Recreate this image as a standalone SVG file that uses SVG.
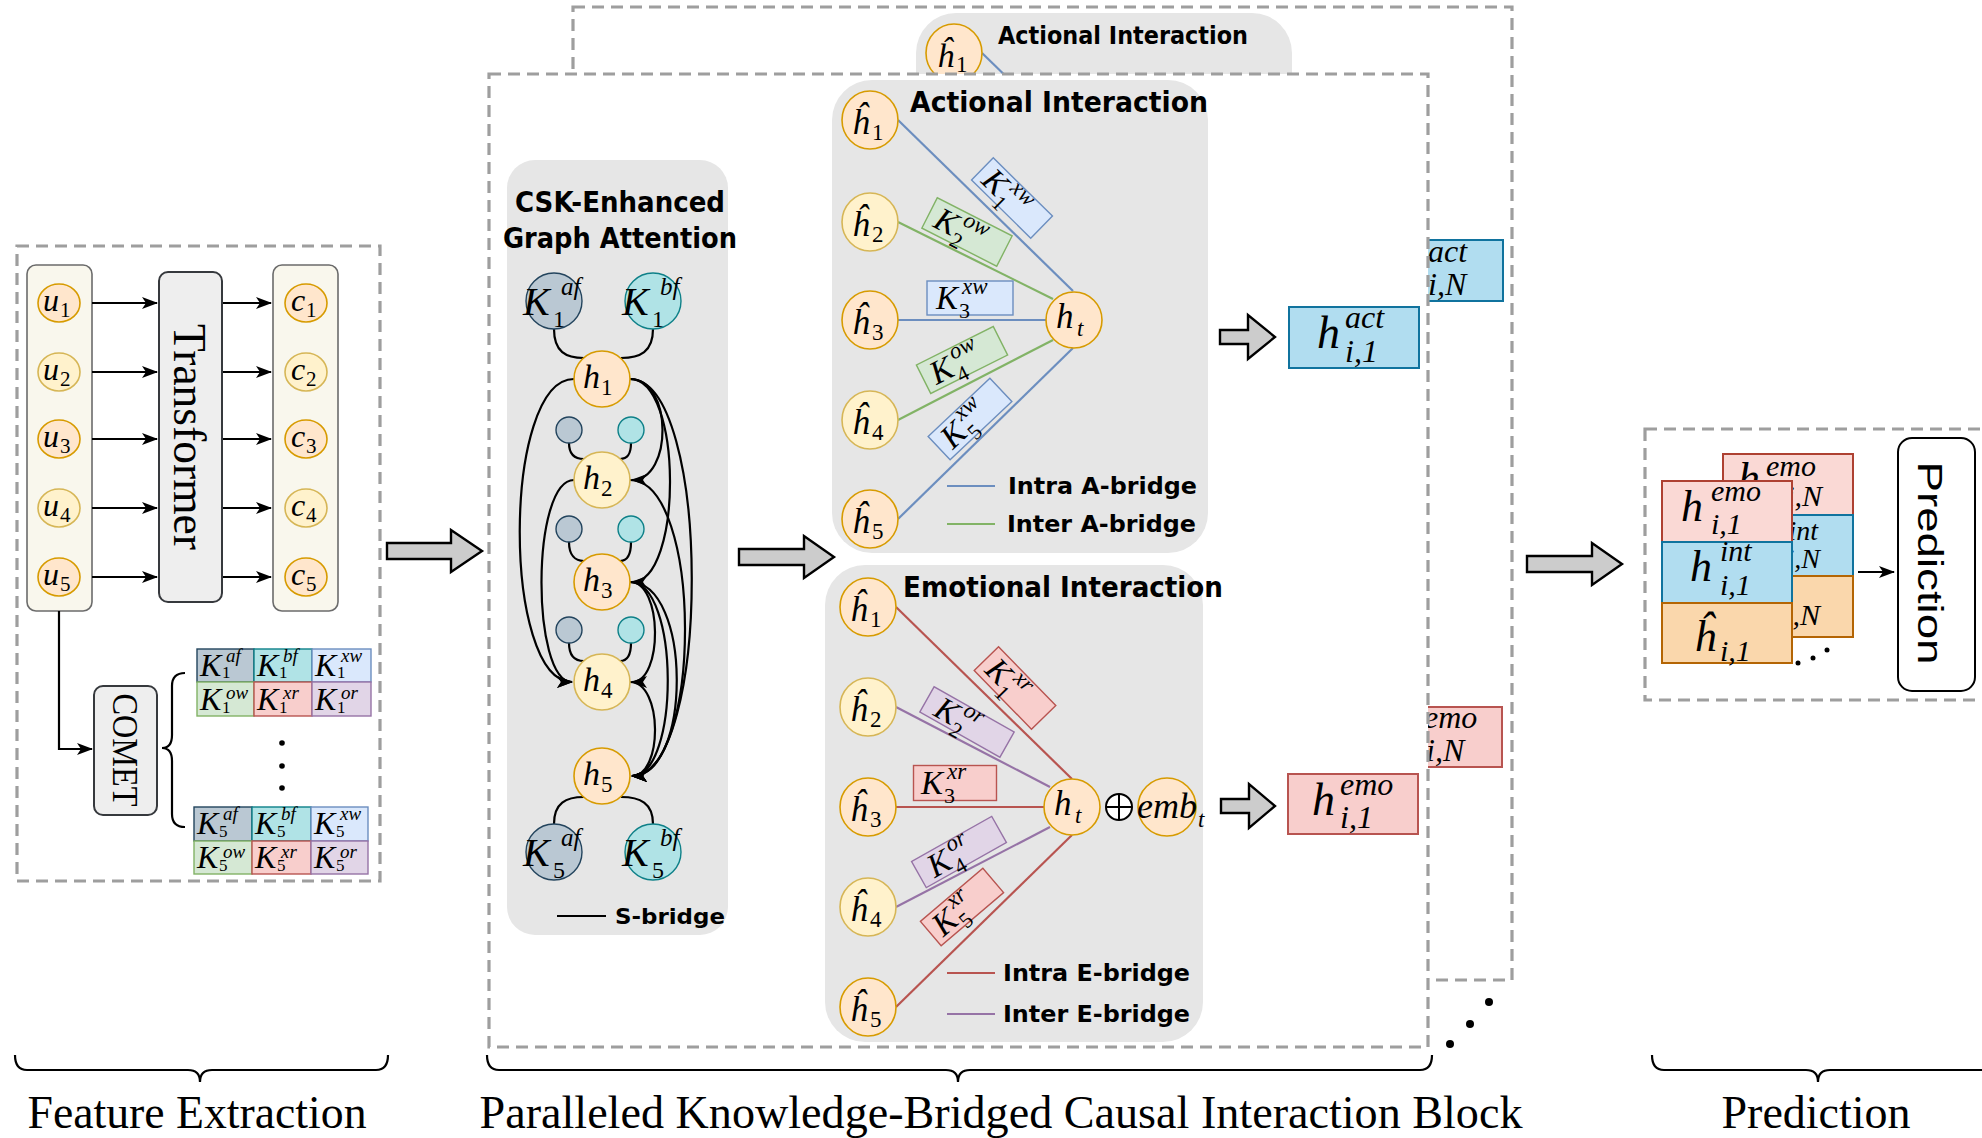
<svg xmlns="http://www.w3.org/2000/svg" width="1982" height="1138" viewBox="0 0 1982 1138">
<defs>
<style>
.dash{fill:none;stroke:#9e9e9e;stroke-width:3.2;stroke-dasharray:12 7}
.wdash{fill:#fff;stroke:#9e9e9e;stroke-width:3.2;stroke-dasharray:12 7}
.panel{fill:#e6e6e6}
.org{fill:#ffe6cc;stroke:#d79b00;stroke-width:1.6}
.yel{fill:#fff2cc;stroke:#d6b656;stroke-width:1.6}
.col{fill:#f9f7ed;stroke:#6b6b6b;stroke-width:1.6}
.box{fill:#eeeeee;stroke:#36393d;stroke-width:2}
.mi{font-family:"Liberation Serif",serif;font-style:italic;fill:#000}
.mr{font-family:"Liberation Serif",serif;fill:#000}
.hd{font-family:"DejaVu Sans",sans-serif;font-weight:bold;fill:#000}
.cap{font-family:"Liberation Serif",serif;fill:#000}
.ln{fill:none;stroke:#000;stroke-width:2.2}
.big{fill:#cccccc;stroke:#000;stroke-width:2.4}
.af{fill:#bac8d3;stroke:#23445d;stroke-width:1.4}
.bf{fill:#b0e3e6;stroke:#0e8088;stroke-width:1.4}
.xw{fill:#dae8fc;stroke:#6c8ebf;stroke-width:1.4}
.ow{fill:#d5e8d4;stroke:#82b366;stroke-width:1.4}
.xr{fill:#f8cecc;stroke:#b85450;stroke-width:1.4}
.or{fill:#e1d5e7;stroke:#9673a6;stroke-width:1.4}
.eA{stroke:#6c8ebf;stroke-width:2.2}
.eG{stroke:#82b366;stroke-width:2.2}
.eR{stroke:#b85450;stroke-width:2.2}
.eP{stroke:#9673a6;stroke-width:2.2}
.vact{fill:#b1ddf0;stroke:#10739e;stroke-width:2}
.vemo{fill:#f8cecc;stroke:#b85450;stroke-width:2}
.semo{fill:#fad9d5;stroke:#ae4132;stroke-width:2}
.sint{fill:#b1ddf0;stroke:#10739e;stroke-width:2}
.shat{fill:#fad7ac;stroke:#b46504;stroke-width:2}
</style>
<marker id="ah" markerUnits="userSpaceOnUse" markerWidth="16" markerHeight="14" viewBox="0 0 16 14" refX="15" refY="7" orient="auto">
<path d="M0,1 L16,7 L0,13 L4,7 Z" fill="#000"/>
</marker>
<!-- part of the rear stack left uncovered by the front stack -->
<clipPath id="rear-visible">
<path clip-rule="evenodd" d="M1723,454 H1853 V637 H1723 Z M1723,481 H1792 V663 H1723 Z"/>
</clipPath>
</defs>
<rect width="1982" height="1138" fill="#fff"/>

<!-- second interaction block stacked behind the first one -->
<g id="block-back">
<rect class="dash" x="573" y="7" width="939" height="973"/>
<rect class="panel" x="916" y="13" width="376" height="473" rx="40"/>
<line class="eA" x1="982" y1="53" x2="1157" y2="223"/>
<ellipse class="org" cx="954" cy="53" rx="28" ry="29"/>
<text class="mi" x="937" y="67" font-size="34">ĥ</text><text class="mr" x="956" y="72" font-size="23">1</text>
<text class="hd" x="998" y="44" font-size="25" textLength="250" lengthAdjust="spacingAndGlyphs">Actional Interaction</text>
<rect class="vact" x="1373" y="240" width="130" height="61"/>
<text class="mi" x="1401" y="282" font-size="46">h</text><text class="mi" x="1428" y="262" font-size="32">act</text><text class="mi" x="1428" y="295" font-size="32">i,N</text>
<rect class="vemo" x="1372" y="707" width="130" height="60"/>
<text class="mi" x="1397" y="748" font-size="46">h</text><text class="mi" x="1424" y="728" font-size="32">emo</text><text class="mi" x="1426" y="761" font-size="32">i,N</text>
</g>

<!-- frames -->
<rect id="block-frame" class="wdash" x="489" y="74" width="939" height="973"/>
<rect id="fe-frame" class="dash" x="17" y="246" width="363" height="635"/>
<rect id="pred-frame" class="dash" x="1645" y="429" width="400" height="271"/>

<!-- containers -->
<rect id="u-column" class="col" x="27" y="265" width="65" height="346" rx="9"/>
<rect id="c-column" class="col" x="273" y="265" width="65" height="346" rx="9"/>
<rect id="csk-panel" class="panel" x="507" y="160" width="221" height="775" rx="28"/>
<rect id="act-panel" class="panel" x="832" y="80" width="376" height="473" rx="40"/>
<rect id="emo-panel" class="panel" x="825" y="565" width="378" height="477" rx="40"/>

<!-- connectors -->
<g id="connectors">
<g class="ln" marker-end="url(#ah)">
<line x1="92" y1="303" x2="157" y2="303"/>
<line x1="92" y1="372" x2="157" y2="372"/>
<line x1="92" y1="439" x2="157" y2="439"/>
<line x1="92" y1="508" x2="157" y2="508"/>
<line x1="92" y1="577" x2="157" y2="577"/>
<line x1="222" y1="303" x2="271" y2="303"/>
<line x1="222" y1="372" x2="271" y2="372"/>
<line x1="222" y1="439" x2="271" y2="439"/>
<line x1="222" y1="508" x2="271" y2="508"/>
<line x1="222" y1="577" x2="271" y2="577"/>
<path d="M59,611 V749 H92"/>
<line x1="1858" y1="572" x2="1894" y2="572"/>
<!-- sequential edges inside the graph attention -->
<path d="M630,379 C673,379 673,480 632,480"/>
<path d="M630,379 C683,379 683,582 632,582"/>
<path d="M630,379 C712,379 712,776 632,776"/>
<path d="M630,480 C703,480 703,776 632,776"/>
<path d="M630,582 C663,582 663,682 632,682"/>
<path d="M630,582 C680,582 680,776 632,776"/>
<path d="M630,582 C692,582 692,776 632,776"/>
<path d="M630,682 C663,682 663,776 632,776"/>
<path d="M574,379 C502,379 502,682 572,682"/>
<path d="M574,480 C531,480 531,682 572,682"/>
</g>
<!-- COMET brace -->
<path class="ln" d="M185,673 Q172,673 172,686 V735 Q172,748 162,748 Q172,748 172,761 V814 Q172,827 185,827"/>
<!-- knowledge links of the graph attention -->
<g class="ln">
<path d="M554,329 C554,352 566,358 584,358"/>
<path d="M653,329 C653,352 640,358 621,358"/>
<path d="M569,443 C569,455 575,459 584,459"/>
<path d="M631,443 C631,455 627,459 620,459"/>
<path d="M569,542 C569,555 575,561 584,561"/>
<path d="M631,542 C631,555 627,561 620,561"/>
<path d="M569,643 C569,656 575,661 584,661"/>
<path d="M631,643 C631,656 627,661 620,661"/>
<path d="M584,797 C566,797 554,803 554,824"/>
<path d="M621,797 C640,797 653,803 653,824"/>
<line x1="557" y1="916" x2="606" y2="916"/>
</g>
<!-- actional bridges -->
<line class="eA" x1="898" y1="120" x2="1073" y2="291"/>
<line class="eG" x1="898" y1="222" x2="1053" y2="299"/>
<line class="eA" x1="898" y1="320" x2="1046" y2="320"/>
<line class="eG" x1="898" y1="420" x2="1053" y2="340"/>
<line class="eA" x1="898" y1="519" x2="1073" y2="348"/>
<line class="eA" x1="947" y1="486" x2="995" y2="486"/>
<line class="eG" x1="947" y1="524" x2="995" y2="524"/>
<!-- emotional bridges -->
<line class="eR" x1="896" y1="607" x2="1072" y2="779"/>
<line class="eP" x1="896" y1="707" x2="1050" y2="787"/>
<line class="eR" x1="896" y1="807" x2="1044" y2="807"/>
<line class="eP" x1="896" y1="907" x2="1050" y2="827"/>
<line class="eR" x1="896" y1="1007" x2="1072" y2="835"/>
<line class="eR" x1="947" y1="973" x2="995" y2="973"/>
<line class="eP" x1="947" y1="1014" x2="995" y2="1014"/>
<!-- block arrows between stages -->
<path class="big" d="M387,543 H451 V530 L482,551 L451,572 V559 H387 Z"/>
<path class="big" d="M739,549 H804 V536 L834,557 L804,578 V565 H739 Z"/>
<path class="big" d="M1220,330 H1248 V315 L1275,337 L1248,359 V344 H1220 Z"/>
<path class="big" d="M1221,799 H1249 V784 L1275,806 L1249,828 V813 H1221 Z"/>
<path class="big" d="M1527,556 H1592 V543 L1622,564 L1592,585 V572 H1527 Z"/>
</g>

<!-- feature extraction -->
<g id="utterances">
<ellipse class="org" cx="59" cy="303" rx="21" ry="19"/>
<ellipse class="yel" cx="59" cy="372" rx="21" ry="19"/>
<ellipse class="org" cx="59" cy="439" rx="21" ry="19"/>
<ellipse class="yel" cx="59" cy="508" rx="21" ry="19"/>
<ellipse class="org" cx="59" cy="577" rx="21" ry="19"/>
<text class="mi" x="43" y="311" font-size="32">u</text><text class="mr" x="60" y="317" font-size="21">1</text>
<text class="mi" x="43" y="380" font-size="32">u</text><text class="mr" x="60" y="386" font-size="21">2</text>
<text class="mi" x="43" y="447" font-size="32">u</text><text class="mr" x="60" y="453" font-size="21">3</text>
<text class="mi" x="43" y="516" font-size="32">u</text><text class="mr" x="60" y="522" font-size="21">4</text>
<text class="mi" x="43" y="585" font-size="32">u</text><text class="mr" x="60" y="591" font-size="21">5</text>
</g>
<g id="transformer">
<rect class="box" x="159" y="272" width="63" height="330" rx="9"/>
<text class="cap" font-size="46" text-anchor="middle" textLength="226" lengthAdjust="spacingAndGlyphs" transform="translate(174,437) rotate(90)">Transformer</text>
</g>
<g id="contexts">
<ellipse class="org" cx="306" cy="303" rx="21" ry="19"/>
<ellipse class="yel" cx="306" cy="372" rx="21" ry="19"/>
<ellipse class="org" cx="306" cy="439" rx="21" ry="19"/>
<ellipse class="yel" cx="306" cy="508" rx="21" ry="19"/>
<ellipse class="org" cx="306" cy="577" rx="21" ry="19"/>
<text class="mi" x="291" y="311" font-size="32">c</text><text class="mr" x="306" y="317" font-size="21">1</text>
<text class="mi" x="291" y="380" font-size="32">c</text><text class="mr" x="306" y="386" font-size="21">2</text>
<text class="mi" x="291" y="447" font-size="32">c</text><text class="mr" x="306" y="453" font-size="21">3</text>
<text class="mi" x="291" y="516" font-size="32">c</text><text class="mr" x="306" y="522" font-size="21">4</text>
<text class="mi" x="291" y="585" font-size="32">c</text><text class="mr" x="306" y="591" font-size="21">5</text>
</g>
<g id="comet">
<rect class="box" x="94" y="686" width="63" height="129" rx="9"/>
<text class="cap" font-size="36" text-anchor="middle" textLength="113" lengthAdjust="spacingAndGlyphs" transform="translate(113,750) rotate(90)">COMET</text>
</g>
<g id="knowledge-1">
<rect class="af" x="197" y="649" width="57" height="33"/><rect class="bf" x="254" y="649" width="58" height="33"/><rect class="xw" x="312" y="649" width="59" height="33"/>
<rect class="ow" x="197" y="682" width="57" height="34"/><rect class="xr" x="254" y="682" width="58" height="34"/><rect class="or" x="312" y="682" width="59" height="34"/>
<text class="mi" x="200" y="676" font-size="32">K</text><text class="mi" x="226" y="662" font-size="19">af</text><text class="mr" x="222" y="678" font-size="17">1</text>
<text class="mi" x="257" y="676" font-size="32">K</text><text class="mi" x="283" y="662" font-size="19">bf</text><text class="mr" x="279" y="678" font-size="17">1</text>
<text class="mi" x="315" y="676" font-size="32">K</text><text class="mi" x="341" y="662" font-size="19">xw</text><text class="mr" x="337" y="678" font-size="17">1</text>
<text class="mi" x="200" y="710" font-size="32">K</text><text class="mi" x="226" y="699" font-size="19">ow</text><text class="mr" x="222" y="713" font-size="17">1</text>
<text class="mi" x="257" y="710" font-size="32">K</text><text class="mi" x="283" y="699" font-size="19">xr</text><text class="mr" x="279" y="713" font-size="17">1</text>
<text class="mi" x="315" y="710" font-size="32">K</text><text class="mi" x="341" y="699" font-size="19">or</text><text class="mr" x="337" y="713" font-size="17">1</text>
<circle cx="282" cy="743" r="2.8"/><circle cx="282" cy="766" r="2.8"/><circle cx="282" cy="788" r="2.8"/>
</g>
<g id="knowledge-5">
<rect class="af" x="194" y="807" width="58" height="34"/><rect class="bf" x="252" y="807" width="59" height="34"/><rect class="xw" x="311" y="807" width="57" height="34"/>
<rect class="ow" x="194" y="841" width="58" height="33"/><rect class="xr" x="252" y="841" width="59" height="33"/><rect class="or" x="311" y="841" width="57" height="33"/>
<text class="mi" x="197" y="834" font-size="32">K</text><text class="mi" x="223" y="820" font-size="19">af</text><text class="mr" x="219" y="837" font-size="17">5</text>
<text class="mi" x="255" y="834" font-size="32">K</text><text class="mi" x="281" y="820" font-size="19">bf</text><text class="mr" x="277" y="837" font-size="17">5</text>
<text class="mi" x="314" y="834" font-size="32">K</text><text class="mi" x="340" y="820" font-size="19">xw</text><text class="mr" x="336" y="837" font-size="17">5</text>
<text class="mi" x="197" y="868" font-size="32">K</text><text class="mi" x="223" y="858" font-size="19">ow</text><text class="mr" x="219" y="871" font-size="17">5</text>
<text class="mi" x="255" y="868" font-size="32">K</text><text class="mi" x="281" y="858" font-size="19">xr</text><text class="mr" x="277" y="871" font-size="17">5</text>
<text class="mi" x="314" y="868" font-size="32">K</text><text class="mi" x="340" y="858" font-size="19">or</text><text class="mr" x="336" y="871" font-size="17">5</text>
</g>

<!-- CSK-enhanced graph attention -->
<g id="csk-graph">
<text class="hd" x="620" y="212" font-size="29" text-anchor="middle" textLength="210" lengthAdjust="spacingAndGlyphs">CSK-Enhanced</text>
<text class="hd" x="620" y="248" font-size="29" text-anchor="middle" textLength="234" lengthAdjust="spacingAndGlyphs">Graph Attention</text>
<circle class="af" cx="554" cy="301" r="28"/><circle class="bf" cx="653" cy="301" r="28"/>
<circle class="af" cx="569" cy="430" r="13"/><circle class="bf" cx="631" cy="430" r="13"/>
<circle class="af" cx="569" cy="529" r="13"/><circle class="bf" cx="631" cy="529" r="13"/>
<circle class="af" cx="569" cy="630" r="13"/><circle class="bf" cx="631" cy="630" r="13"/>
<circle class="af" cx="554" cy="852" r="28"/><circle class="bf" cx="653" cy="852" r="28"/>
<text class="mi" x="523" y="315" font-size="40">K</text><text class="mi" x="561" y="295" font-size="25">af</text><text class="mr" x="553" y="327" font-size="24">1</text>
<text class="mi" x="622" y="315" font-size="40">K</text><text class="mi" x="660" y="295" font-size="25">bf</text><text class="mr" x="652" y="327" font-size="24">1</text>
<text class="mi" x="523" y="866" font-size="40">K</text><text class="mi" x="561" y="846" font-size="25">af</text><text class="mr" x="553" y="878" font-size="24">5</text>
<text class="mi" x="622" y="866" font-size="40">K</text><text class="mi" x="660" y="846" font-size="25">bf</text><text class="mr" x="652" y="878" font-size="24">5</text>
<circle class="org" cx="602" cy="379" r="28"/>
<circle class="yel" cx="602" cy="480" r="28"/>
<circle class="org" cx="602" cy="582" r="28"/>
<circle class="yel" cx="602" cy="682" r="28"/>
<circle class="org" cx="602" cy="776" r="28"/>
<text class="mi" x="583" y="388" font-size="34">h</text><text class="mr" x="601" y="395" font-size="23">1</text>
<text class="mi" x="583" y="489" font-size="34">h</text><text class="mr" x="601" y="496" font-size="23">2</text>
<text class="mi" x="583" y="591" font-size="34">h</text><text class="mr" x="601" y="598" font-size="23">3</text>
<text class="mi" x="583" y="691" font-size="34">h</text><text class="mr" x="601" y="698" font-size="23">4</text>
<text class="mi" x="583" y="785" font-size="34">h</text><text class="mr" x="601" y="792" font-size="23">5</text>
<text class="hd" x="615" y="924" font-size="21" textLength="110" lengthAdjust="spacingAndGlyphs">S-bridge</text>
</g>

<!-- actional interaction -->
<g id="actional">
<text class="hd" x="910" y="112" font-size="29" textLength="298" lengthAdjust="spacingAndGlyphs">Actional Interaction</text>
<g transform="translate(1012,198) rotate(44.5)"><rect class="xw" x="-41.5" y="-15.5" width="83" height="31"/><text class="mi" x="-34" y="11" font-size="33">K</text><text class="mi" x="-8" y="-4" font-size="23">xw</text><text class="mr" x="-11" y="20" font-size="22">1</text></g>
<g transform="translate(967,232) rotate(27)"><rect class="ow" x="-42" y="-17" width="84" height="34"/><text class="mi" x="-34" y="11" font-size="33">K</text><text class="mi" x="-8" y="-4" font-size="23">ow</text><text class="mr" x="-11" y="20" font-size="22">2</text></g>
<g transform="translate(970,298)"><rect class="xw" x="-43" y="-17" width="86" height="34"/><text class="mi" x="-34" y="11" font-size="33">K</text><text class="mi" x="-8" y="-4" font-size="23">xw</text><text class="mr" x="-11" y="20" font-size="22">3</text></g>
<g transform="translate(962,360) rotate(-26.6)"><rect class="ow" x="-43" y="-16" width="86" height="32"/><text class="mi" x="-34" y="11" font-size="33">K</text><text class="mi" x="-8" y="-4" font-size="23">ow</text><text class="mr" x="-11" y="20" font-size="22">4</text></g>
<g transform="translate(970,419) rotate(-43.4)"><rect class="xw" x="-42.5" y="-16" width="85" height="32"/><text class="mi" x="-34" y="11" font-size="33">K</text><text class="mi" x="-8" y="-4" font-size="23">xw</text><text class="mr" x="-11" y="20" font-size="22">5</text></g>
<ellipse class="org" cx="870" cy="120" rx="28" ry="29"/>
<ellipse class="yel" cx="870" cy="222" rx="28" ry="29"/>
<ellipse class="org" cx="870" cy="320" rx="28" ry="29"/>
<ellipse class="yel" cx="870" cy="420" rx="28" ry="29"/>
<ellipse class="org" cx="870" cy="519" rx="28" ry="29"/>
<text class="mi" x="852" y="134" font-size="35">ĥ</text><text class="mr" x="872" y="140" font-size="23">1</text>
<text class="mi" x="852" y="236" font-size="35">ĥ</text><text class="mr" x="872" y="242" font-size="23">2</text>
<text class="mi" x="852" y="334" font-size="35">ĥ</text><text class="mr" x="872" y="340" font-size="23">3</text>
<text class="mi" x="852" y="434" font-size="35">ĥ</text><text class="mr" x="872" y="440" font-size="23">4</text>
<text class="mi" x="852" y="533" font-size="35">ĥ</text><text class="mr" x="872" y="539" font-size="23">5</text>
<circle class="org" cx="1074" cy="320" r="28"/>
<text class="mi" x="1056" y="328" font-size="35">h</text><text class="mi" x="1077" y="336" font-size="23">t</text>
<text class="hd" x="1008" y="494" font-size="23" textLength="189" lengthAdjust="spacingAndGlyphs">Intra A-bridge</text>
<text class="hd" x="1007" y="532" font-size="23" textLength="189" lengthAdjust="spacingAndGlyphs">Inter A-bridge</text>
</g>

<!-- emotional interaction -->
<g id="emotional">
<text class="hd" x="903" y="597" font-size="29" textLength="320" lengthAdjust="spacingAndGlyphs">Emotional Interaction</text>
<g transform="translate(1015,688) rotate(45.7)"><rect class="xr" x="-41" y="-17" width="82" height="34"/><text class="mi" x="-34" y="11" font-size="33">K</text><text class="mi" x="-8" y="-4" font-size="23">xr</text><text class="mr" x="-11" y="20" font-size="22">1</text></g>
<g transform="translate(967,722) rotate(29.5)"><rect class="or" x="-46" y="-14.5" width="92" height="29"/><text class="mi" x="-34" y="11" font-size="33">K</text><text class="mi" x="-8" y="-4" font-size="23">or</text><text class="mr" x="-11" y="20" font-size="22">2</text></g>
<g transform="translate(955,783)"><rect class="xr" x="-41.5" y="-17.5" width="83" height="35"/><text class="mi" x="-34" y="11" font-size="33">K</text><text class="mi" x="-8" y="-4" font-size="23">xr</text><text class="mr" x="-11" y="20" font-size="22">3</text></g>
<g transform="translate(959,852) rotate(-29.4)"><rect class="or" x="-46" y="-15" width="92" height="30"/><text class="mi" x="-34" y="11" font-size="33">K</text><text class="mi" x="-8" y="-4" font-size="23">or</text><text class="mr" x="-11" y="20" font-size="22">4</text></g>
<g transform="translate(962,907) rotate(-40.4)"><rect class="xr" x="-41" y="-16" width="82" height="32"/><text class="mi" x="-34" y="11" font-size="33">K</text><text class="mi" x="-8" y="-4" font-size="23">xr</text><text class="mr" x="-11" y="20" font-size="22">5</text></g>
<ellipse class="org" cx="868" cy="607" rx="28" ry="29"/>
<ellipse class="yel" cx="868" cy="707" rx="28" ry="29"/>
<ellipse class="org" cx="868" cy="807" rx="28" ry="29"/>
<ellipse class="yel" cx="868" cy="907" rx="28" ry="29"/>
<ellipse class="org" cx="868" cy="1007" rx="28" ry="29"/>
<text class="mi" x="850" y="621" font-size="35">ĥ</text><text class="mr" x="870" y="627" font-size="23">1</text>
<text class="mi" x="850" y="721" font-size="35">ĥ</text><text class="mr" x="870" y="727" font-size="23">2</text>
<text class="mi" x="850" y="821" font-size="35">ĥ</text><text class="mr" x="870" y="827" font-size="23">3</text>
<text class="mi" x="850" y="921" font-size="35">ĥ</text><text class="mr" x="870" y="927" font-size="23">4</text>
<text class="mi" x="850" y="1021" font-size="35">ĥ</text><text class="mr" x="870" y="1027" font-size="23">5</text>
<circle class="org" cx="1072" cy="807" r="28"/>
<text class="mi" x="1054" y="815" font-size="35">h</text><text class="mi" x="1075" y="823" font-size="23">t</text>
<circle class="org" cx="1167" cy="807" r="29"/>
<circle cx="1119" cy="807" r="13" fill="#fff" stroke="#000" stroke-width="2"/>
<path d="M1106,807 H1132 M1119,794 V820" stroke="#000" stroke-width="2"/>
<text class="mi" x="1137" y="818" font-size="36">emb</text><text class="mi" x="1198" y="827" font-size="23">t</text>
<text class="hd" x="1003" y="981" font-size="23" textLength="187" lengthAdjust="spacingAndGlyphs">Intra E-bridge</text>
<text class="hd" x="1003" y="1022" font-size="23" textLength="187" lengthAdjust="spacingAndGlyphs">Inter E-bridge</text>
</g>

<!-- block outputs -->
<g id="out-act">
<rect class="vact" x="1289" y="307" width="130" height="61"/>
<text class="mi" x="1317" y="348" font-size="46">h</text><text class="mi" x="1345" y="328" font-size="32">act</text><text class="mi" x="1345" y="362" font-size="32">i,1</text>
</g>
<g id="out-emo">
<rect class="vemo" x="1288" y="774" width="130" height="60"/>
<text class="mi" x="1312" y="815" font-size="46">h</text><text class="mi" x="1340" y="795" font-size="32">emo</text><text class="mi" x="1340" y="828" font-size="32">i,1</text>
</g>
<g id="more-blocks">
<circle cx="1450" cy="1044" r="4"/><circle cx="1470" cy="1024" r="4"/><circle cx="1489" cy="1002" r="4"/>
</g>

<!-- prediction -->
<g id="stack-back">
<rect class="semo" x="1723" y="454" width="130" height="61"/>
<rect class="sint" x="1723" y="515" width="130" height="61"/>
<rect class="shat" x="1723" y="576" width="130" height="61"/>
<g clip-path="url(#rear-visible)">
<text class="mi" x="1738" y="493" font-size="44">h</text><text class="mi" x="1766" y="476" font-size="30">emo</text><text class="mi" x="1822" y="506" font-size="30" text-anchor="end">i,N</text>
<text class="mi" x="1818" y="540" font-size="28" text-anchor="end">int</text><text class="mi" x="1820" y="568" font-size="28" text-anchor="end">i,N</text>
<text class="mi" x="1820" y="625" font-size="30" text-anchor="end">i,N</text>
</g>
</g>
<g id="stack-front">
<rect class="semo" x="1662" y="481" width="130" height="61"/>
<rect class="sint" x="1662" y="542" width="130" height="61"/>
<rect class="shat" x="1662" y="603" width="130" height="60"/>
<text class="mi" x="1681" y="521" font-size="44">h</text><text class="mi" x="1711" y="501" font-size="30">emo</text><text class="mi" x="1711" y="534" font-size="30">i,1</text>
<text class="mi" x="1690" y="581" font-size="44">h</text><text class="mi" x="1720" y="561" font-size="30">int</text><text class="mi" x="1720" y="595" font-size="30">i,1</text>
<text class="mi" x="1694" y="651" font-size="44">ĥ</text><text class="mi" x="1720" y="661" font-size="30">i,1</text>
<circle cx="1798" cy="663" r="2.5"/><circle cx="1813" cy="658" r="2.5"/><circle cx="1827" cy="650" r="2.5"/>
</g>
<g id="prediction">
<rect x="1898" y="438" width="77" height="253" rx="14" fill="#fff" stroke="#000" stroke-width="2"/>
<text font-family="Liberation Sans, sans-serif" font-size="35" text-anchor="middle" textLength="203" lengthAdjust="spacingAndGlyphs" transform="translate(1918,563) rotate(90)">Prediction</text>
</g>

<!-- stage captions -->
<g id="captions">
<path class="ln" stroke-width="2" d="M15,1055 Q15,1070 27,1070 H188 Q200,1070 200,1082 Q200,1070 212,1070 H376 Q388,1070 388,1055"/>
<path class="ln" stroke-width="2" d="M487,1055 Q487,1070 499,1070 H946 Q958,1070 958,1082 Q958,1070 970,1070 H1420 Q1432,1070 1432,1055"/>
<path class="ln" stroke-width="2" d="M1652,1055 Q1652,1070 1664,1070 H1806 Q1818,1070 1818,1082 Q1818,1070 1830,1070 H1990"/>
<text class="cap" x="197" y="1128" font-size="46" text-anchor="middle" textLength="339" lengthAdjust="spacingAndGlyphs">Feature Extraction</text>
<text class="cap" x="1001" y="1128" font-size="46" text-anchor="middle" textLength="1043" lengthAdjust="spacingAndGlyphs">Paralleled Knowledge-Bridged Causal Interaction Block</text>
<text class="cap" x="1816" y="1128" font-size="46" text-anchor="middle" textLength="189" lengthAdjust="spacingAndGlyphs">Prediction</text>
</g>
</svg>
